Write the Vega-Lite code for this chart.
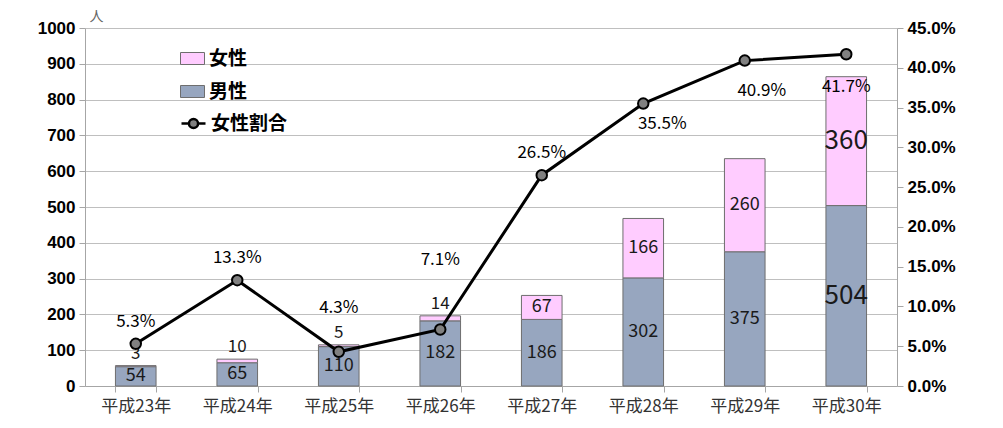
{
  "$schema": "https://vega.github.io/schema/vega-lite/v6.json",
  "width": 812,
  "height": 358,
  "autosize": {"type": "none"},
  "padding": {"left": 85, "top": 28, "right": 106, "bottom": 42},
  "background": "white",
  "datasets": {
    "counts": [
      {"year": "平成23年", "sex": "男性", "value": 54, "order": 1},
      {"year": "平成23年", "sex": "女性", "value": 3, "order": 2},
      {"year": "平成24年", "sex": "男性", "value": 65, "order": 1},
      {"year": "平成24年", "sex": "女性", "value": 10, "order": 2},
      {"year": "平成25年", "sex": "男性", "value": 110, "order": 1},
      {"year": "平成25年", "sex": "女性", "value": 5, "order": 2},
      {"year": "平成26年", "sex": "男性", "value": 182, "order": 1},
      {"year": "平成26年", "sex": "女性", "value": 14, "order": 2},
      {"year": "平成27年", "sex": "男性", "value": 186, "order": 1},
      {"year": "平成27年", "sex": "女性", "value": 67, "order": 2},
      {"year": "平成28年", "sex": "男性", "value": 302, "order": 1},
      {"year": "平成28年", "sex": "女性", "value": 166, "order": 2},
      {"year": "平成29年", "sex": "男性", "value": 375, "order": 1},
      {"year": "平成29年", "sex": "女性", "value": 260, "order": 2},
      {"year": "平成30年", "sex": "男性", "value": 504, "order": 1},
      {"year": "平成30年", "sex": "女性", "value": 360, "order": 2}
    ],
    "ratio": [
      {"year": "平成23年", "ratio": 0.053, "label": "5.3%"},
      {"year": "平成24年", "ratio": 0.133, "label": "13.3%"},
      {"year": "平成25年", "ratio": 0.043, "label": "4.3%"},
      {"year": "平成26年", "ratio": 0.071, "label": "7.1%"},
      {"year": "平成27年", "ratio": 0.265, "label": "26.5%"},
      {"year": "平成28年", "ratio": 0.355, "label": "35.5%"},
      {"year": "平成29年", "ratio": 0.409, "label": "40.9%"},
      {"year": "平成30年", "ratio": 0.417, "label": "41.7%"}
    ]
  },
  "layer": [
    {
      "data": {"name": "counts"},
      "transform": [
        {"stack": "value", "groupby": ["year"], "sort": [{"field": "order"}], "as": ["v0", "v1"]},
        {"calculate": "(datum.v0 + datum.v1) / 2", "as": "mid"}
      ],
      "encoding": {
        "x": {
          "field": "year",
          "type": "nominal",
          "sort": null,
          "scale": {"paddingInner": 0.6, "paddingOuter": 0.3},
          "axis": {
            "title": null,
            "labelAngle": 0,
            "labelFont": "Noto Sans CJK JP",
            "labelFontSize": 17,
            "labelColor": "#333333",
            "labelPadding": 6,
            "tickBand": "extent",
            "grid": false
          }
        }
      },
      "layer": [
        {
          "mark": {"type": "bar", "stroke": "#6E6E6E", "strokeWidth": 1},
          "encoding": {
            "y": {
              "field": "v0",
              "type": "quantitative",
              "scale": {"domain": [0, 1000]},
              "axis": {
                "title": "人",
                "titleAngle": 0,
                "titleX": 4,
                "titleY": -5,
                "titleAlign": "left",
                "titleBaseline": "bottom",
                "titleFont": "Noto Sans CJK JP",
                "titleFontSize": 14,
                "titleFontWeight": "normal",
                "titleColor": "#666666",
                "values": [0, 100, 200, 300, 400, 500, 600, 700, 800, 900, 1000],
                "format": "d",
                "labelOverlap": false,
                "grid": true,
                "gridColor": "#BFBFBF"
              }
            },
            "y2": {"field": "v1"},
            "fill": {
              "field": "sex",
              "type": "nominal",
              "scale": {"domain": ["女性", "男性"], "range": ["#FFCCFF", "#97A6BF"]},
              "legend": {
                "title": null,
                "orient": "none",
                "legendX": 95,
                "legendY": 18,
                "symbolType": "M-1,-0.5H1V0.5H-1Z",
                "symbolSize": 576,
                "symbolStrokeColor": "#6E6E6E",
                "symbolStrokeWidth": 1,
                "symbolOpacity": 1,
                "labelFont": "Noto Sans CJK JP",
                "labelFontSize": 19,
                "labelFontWeight": "bold",
                "labelColor": "#000000",
                "labelOffset": 4,
                "rowPadding": 10
              }
            }
          }
        },
        {
          "transform": [{"filter": "datum.sex == '男性' && datum.year != '平成30年'"}],
          "mark": {"type": "text", "font": "Noto Sans CJK JP", "fontSize": 18, "color": "#1A1A1A", "baseline": "middle"},
          "encoding": {
            "y": {
              "field": "mid",
              "type": "quantitative",
              "axis": {
                "title": "人",
                "titleAngle": 0,
                "titleX": 4,
                "titleY": -5,
                "titleAlign": "left",
                "titleBaseline": "bottom",
                "titleFont": "Noto Sans CJK JP",
                "titleFontSize": 14,
                "titleFontWeight": "normal",
                "titleColor": "#666666",
                "values": [0, 100, 200, 300, 400, 500, 600, 700, 800, 900, 1000],
                "format": "d",
                "labelOverlap": false,
                "grid": true,
                "gridColor": "#BFBFBF"
              }
            },
            "text": {"field": "value"}
          }
        },
        {
          "transform": [{"filter": "datum.year == '平成30年'"}],
          "mark": {"type": "text", "font": "Noto Sans CJK JP", "fontSize": 26, "color": "#1A1A1A", "baseline": "middle"},
          "encoding": {
            "y": {
              "field": "mid",
              "type": "quantitative",
              "axis": {
                "title": "人",
                "titleAngle": 0,
                "titleX": 4,
                "titleY": -5,
                "titleAlign": "left",
                "titleBaseline": "bottom",
                "titleFont": "Noto Sans CJK JP",
                "titleFontSize": 14,
                "titleFontWeight": "normal",
                "titleColor": "#666666",
                "values": [0, 100, 200, 300, 400, 500, 600, 700, 800, 900, 1000],
                "format": "d",
                "labelOverlap": false,
                "grid": true,
                "gridColor": "#BFBFBF"
              }
            },
            "text": {"field": "value"}
          }
        },
        {
          "transform": [{"filter": "datum.sex == '女性' && datum.value >= 20 && datum.year != '平成30年'"}],
          "mark": {"type": "text", "font": "Noto Sans CJK JP", "fontSize": 18, "color": "#1A1A1A", "baseline": "middle"},
          "encoding": {
            "y": {
              "field": "mid",
              "type": "quantitative",
              "axis": {
                "title": "人",
                "titleAngle": 0,
                "titleX": 4,
                "titleY": -5,
                "titleAlign": "left",
                "titleBaseline": "bottom",
                "titleFont": "Noto Sans CJK JP",
                "titleFontSize": 14,
                "titleFontWeight": "normal",
                "titleColor": "#666666",
                "values": [0, 100, 200, 300, 400, 500, 600, 700, 800, 900, 1000],
                "format": "d",
                "labelOverlap": false,
                "grid": true,
                "gridColor": "#BFBFBF"
              }
            },
            "text": {"field": "value"}
          }
        },
        {
          "transform": [{"filter": "datum.sex == '女性' && datum.value < 20"}],
          "mark": {"type": "text", "font": "Noto Sans CJK JP", "fontSize": 17, "color": "#1A1A1A", "baseline": "bottom", "dy": -3},
          "encoding": {
            "y": {
              "field": "v1",
              "type": "quantitative",
              "axis": {
                "title": "人",
                "titleAngle": 0,
                "titleX": 4,
                "titleY": -5,
                "titleAlign": "left",
                "titleBaseline": "bottom",
                "titleFont": "Noto Sans CJK JP",
                "titleFontSize": 14,
                "titleFontWeight": "normal",
                "titleColor": "#666666",
                "values": [0, 100, 200, 300, 400, 500, 600, 700, 800, 900, 1000],
                "format": "d",
                "labelOverlap": false,
                "grid": true,
                "gridColor": "#BFBFBF"
              }
            },
            "text": {"field": "value"}
          }
        }
      ]
    },
    {
      "data": {"name": "ratio"},
      "encoding": {
        "x": {"field": "year", "type": "nominal", "sort": null},
        "y": {
          "field": "ratio",
          "type": "quantitative",
          "scale": {"domain": [0, 0.45]},
          "axis": {
            "orient": "right",
            "title": null,
            "format": ".1%",
            "values": [0, 0.05, 0.1, 0.15, 0.2, 0.25, 0.3, 0.35, 0.4, 0.45],
            "labelOverlap": false,
            "grid": false
          }
        }
      },
      "layer": [
        {
          "mark": {"type": "line", "strokeWidth": 3},
          "encoding": {
            "stroke": {
              "datum": "女性割合",
              "type": "nominal",
              "scale": {"range": ["#000000"]},
              "legend": {
                "title": null,
                "orient": "none",
                "legendX": 95,
                "legendY": 82,
                "symbolType": "M-1,0H-0.38M0.38,0H1M0.38,0A0.38,0.38 0 1,1 -0.38,0A0.38,0.38 0 1,1 0.38,0Z",
                "symbolSize": 576,
                "symbolStrokeWidth": 2.5,
                "labelFont": "Noto Sans CJK JP",
                "labelFontSize": 19,
                "labelFontWeight": "bold",
                "labelColor": "#000000",
                "labelOffset": 4,
                "encode": {"symbols": {"update": {"fill": {"value": "#808080"}, "opacity": {"value": 1}}}}
              }
            }
          }
        },
        {
          "mark": {"type": "point", "filled": true, "fill": "#808080", "stroke": "#000000", "strokeWidth": 2, "size": 110, "opacity": 1}
        },
        {
          "transform": [{"filter": "indexof(['平成23年','平成24年','平成27年'], datum.year) >= 0"}],
          "mark": {"type": "text", "font": "Noto Sans CJK JP", "fontSize": 17, "color": "#000000", "baseline": "middle", "dy": -22},
          "encoding": {"text": {"field": "label"}}
        },
        {
          "transform": [{"filter": "datum.year == '平成25年'"}],
          "mark": {"type": "text", "font": "Noto Sans CJK JP", "fontSize": 17, "color": "#000000", "baseline": "middle", "dy": -44},
          "encoding": {"text": {"field": "label"}}
        },
        {
          "transform": [{"filter": "datum.year == '平成26年'"}],
          "mark": {"type": "text", "font": "Noto Sans CJK JP", "fontSize": 17, "color": "#000000", "baseline": "middle", "dy": -70},
          "encoding": {"text": {"field": "label"}}
        },
        {
          "transform": [{"filter": "datum.year == '平成28年'"}],
          "mark": {"type": "text", "font": "Noto Sans CJK JP", "fontSize": 17, "color": "#000000", "baseline": "middle", "dx": 19, "dy": 20},
          "encoding": {"text": {"field": "label"}}
        },
        {
          "transform": [{"filter": "datum.year == '平成29年'"}],
          "mark": {"type": "text", "font": "Noto Sans CJK JP", "fontSize": 17, "color": "#000000", "baseline": "middle", "dx": 17, "dy": 30},
          "encoding": {"text": {"field": "label"}}
        },
        {
          "transform": [{"filter": "datum.year == '平成30年'"}],
          "mark": {"type": "text", "font": "Noto Sans CJK JP", "fontSize": 17, "color": "#000000", "baseline": "middle", "dy": 33},
          "encoding": {"text": {"field": "label"}}
        }
      ]
    }
  ],
  "resolve": {"scale": {"y": "independent", "stroke": "independent"}},
  "config": {
    "view": {"stroke": null},
    "axis": {
      "domainColor": "#A6A6A6",
      "tickColor": "#A6A6A6",
      "tickSize": 6
    },
    "axisY": {
      "labelOverlap": false,
      "labelFont": "Liberation Sans",
      "labelFontSize": 17,
      "labelFontWeight": "bold",
      "labelColor": "#000000",
      "labelPadding": 4
    }
  }
}
